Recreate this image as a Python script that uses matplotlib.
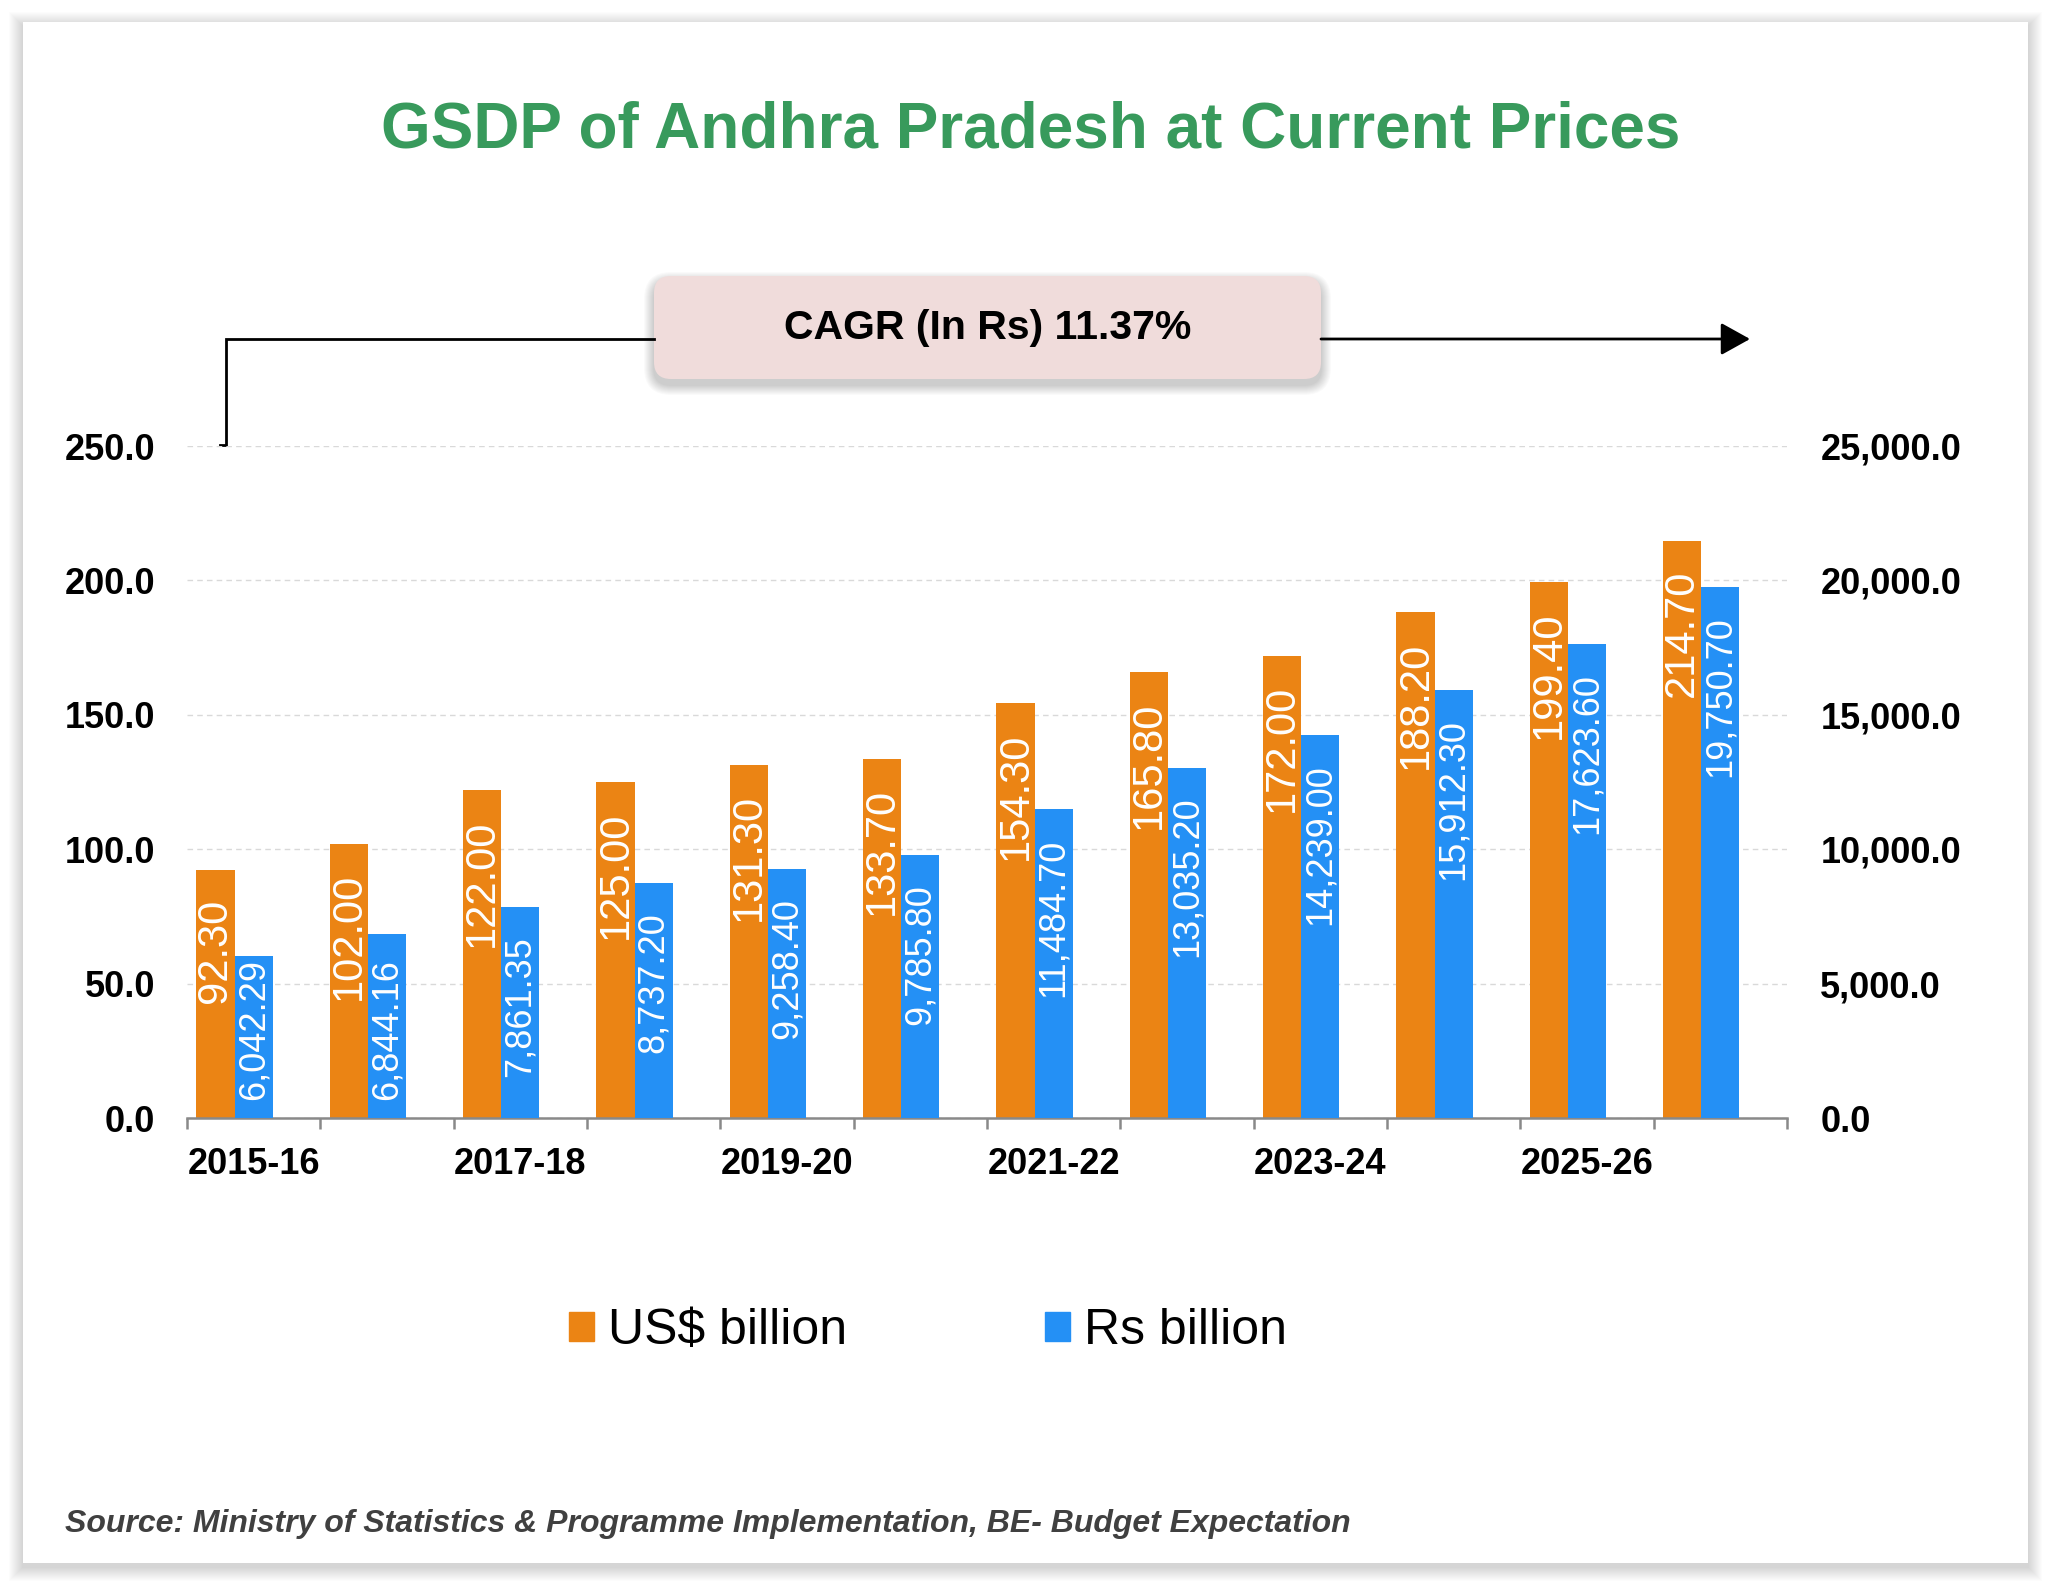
import numpy as np
import matplotlib
matplotlib.use('Agg')
from matplotlib import pyplot as plt
from matplotlib.patches import Rectangle, FancyBboxPatch, Patch

plt.rcParams['font.family'] = ['Liberation Sans', 'DejaVu Sans']

# Datos
years = ['2015-16', '2016-17', '2017-18', '2018-19', '2019-20', '2020-21',
         '2021-22', '2022-23', '2023-24', '2024-25', '2025-26', '2026-27']
usd_billion = [92.30, 102.00, 122.00, 125.00, 131.30, 133.70,
               154.30, 165.80, 172.00, 188.20, 199.40, 214.70]
rs_billion = [6042.29, 6844.16, 7861.35, 8737.20, 9258.40, 9785.80,
              11484.70, 13035.20, 14239.00, 15912.30, 17623.60, 19750.70]
legend_labels = ['US$ billion', 'Rs billion']
cagr_text = 'CAGR (In Rs) 11.37%'
title = 'GSDP of Andhra Pradesh at Current Prices'
source = 'Source: Ministry of Statistics & Programme Implementation, BE- Budget Expectation'

ORANGE = '#EB8414'
BLUE = '#2490F5'
GREEN = '#389A5C'
GREY = '#898989'

W, H = 2051, 1587
fig = plt.figure(figsize=(W / 100, H / 100), dpi=100)
fig.patch.set_facecolor('white')

# Fondo en pixeles (tarjeta, sombra, caja CAGR, flecha)
bg = fig.add_axes([0, 0, 1, 1], zorder=0)
bg.set_xlim(0, W)
bg.set_ylim(H, 0)
bg.axis('off')

for i in range(14, 0, -1):
    bg.add_patch(Rectangle((23 - i, 22 - i + 4), 2005 + 2 * i, 1541 + 2 * i,
                           facecolor='#000000', alpha=0.012, lw=0))
bg.add_patch(Rectangle((23, 22), 2005, 1541, facecolor='white', lw=0))

# caja CAGR con sombra
for i in range(10, 0, -1):
    bg.add_patch(FancyBboxPatch((654 - i, 276 - i + 6), 667 + 2 * i, 103 + 2 * i,
                                boxstyle='round,pad=0,rounding_size=%d' % (17 + i),
                                facecolor='#000000', alpha=0.018, lw=0))
bg.add_patch(FancyBboxPatch((654, 276), 667, 103,
                            boxstyle='round,pad=0,rounding_size=17',
                            facecolor='#F0DCDB', lw=0))
bg.text(987.5, 328, cagr_text, ha='center', va='center', fontsize=29.5,
        fontweight='bold', color='black')

bg.plot([220, 226, 226, 654], [445, 445, 339, 339], color='black', lw=2,
        solid_joinstyle='miter')
bg.annotate('', xy=(1750, 339), xytext=(1321, 339),
            arrowprops=dict(arrowstyle='-|>,head_length=0.9,head_width=0.5',
                            mutation_scale=20, color='black', lw=2,
                            shrinkA=0, shrinkB=0))

fig.text(1031 / W, 1 - 131 / H, title, ha='center', va='center',
         fontsize=46, fontweight='bold', color=GREEN)

# Grafico
ax = fig.add_axes([187 / W, 1 - 1118 / H, 1600 / W, 672 / H], zorder=2)
ax.set_facecolor('none')
ax2 = ax.twinx()

x = np.arange(len(years))
ancho = 0.287
barras_usd = ax.bar(x - ancho, usd_billion, width=ancho, align='center',
                    color=ORANGE, zorder=2)
barras_rs = ax2.bar(x, rs_billion, width=ancho, align='center',
                    color=BLUE, zorder=2)

ax.set_xlim(-0.5, len(years) - 0.5)
ax.set_ylim(0, 250)
ax2.set_ylim(0, 25000)
ax.set_yticks(np.arange(0, 251, 50))
ax2.set_yticks(np.arange(0, 25001, 5000))
ax.set_yticklabels(['%.1f' % v for v in np.arange(0, 251, 50)])
ax2.set_yticklabels(['{:,.1f}'.format(v) for v in np.arange(0, 25001, 5000)])

ax.set_xticks(x[::2])
ax.set_xticklabels(years[::2])
ax.set_xticks(np.arange(-0.5, len(years), 1), minor=True)

ax.tick_params(axis='x', which='major', length=0, pad=21, labelsize=26)
ax.tick_params(axis='x', which='minor', length=8, width=1.8, color=GREY)
ax.tick_params(axis='y', length=0, pad=23, labelsize=26)
ax2.tick_params(axis='y', length=0, pad=24, labelsize=26)
for lab in ax.get_xticklabels() + ax.get_yticklabels() + ax2.get_yticklabels():
    lab.set_fontweight('bold')

for s in ['top', 'left', 'right']:
    ax.spines[s].set_visible(False)
for s in ax2.spines.values():
    s.set_visible(False)
ax.spines['bottom'].set_color(GREY)
ax.spines['bottom'].set_linewidth(1.8)

ax.set_axisbelow(True)
ax.yaxis.grid(True, linestyle=(0, (4, 3)), color='#D9D9D9', lw=1)

# Etiquetas de datos dentro de las barras
etiquetas = []
for barra, v in zip(barras_usd, usd_billion):
    t = ax.annotate('%.2f' % v, (barra.get_x() + barra.get_width() / 2, v),
                    xytext=(0, -21), textcoords='offset points', rotation=90,
                    ha='center', va='top', fontsize=30, color='white', zorder=3)
    etiquetas.append((ax, t, barra))
for barra, v in zip(barras_rs, rs_billion):
    t = ax2.annotate('{:,.2f}'.format(v), (barra.get_x() + barra.get_width() / 2, v),
                     xytext=(0, -21), textcoords='offset points', rotation=90,
                     ha='center', va='top', fontsize=26, color='white', zorder=3)
    etiquetas.append((ax2, t, barra))

fig.canvas.draw()
base_px = ax.transData.transform((0, 0))[1]
for eje, t, barra in etiquetas:
    bb = t.get_window_extent()
    if bb.y0 < base_px + 18:
        t.xy = (barra.get_x() + barra.get_width() / 2, 0)
        t.set_position((0, 13))
        t.set_va('bottom')

fig.legend(handles=[Patch(color=ORANGE, label=legend_labels[0]),
                    Patch(color=BLUE, label=legend_labels[1])],
           loc='center', bbox_to_anchor=(928 / W, 1 - 1331 / H), ncol=2,
           frameon=False, fontsize=36, handlelength=0.5, handleheight=0.5,
           handletextpad=0.28, columnspacing=3.94)

fig.text(65 / W, 1 - 1524 / H, source, ha='left', va='center', fontsize=23,
         fontweight='bold', style='italic', color='#404040')

fig.savefig('out.png', dpi=100)
